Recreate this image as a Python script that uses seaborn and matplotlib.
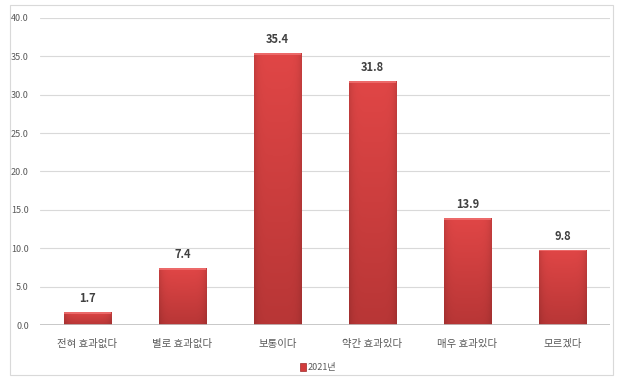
import numpy as np
import pandas as pd
import matplotlib
matplotlib.use("Agg")
import matplotlib.pyplot as plt
import matplotlib.patches as mpatches
import seaborn as sns

categories = ["전혀 효과없다", "별로 효과없다", "보통이다", "약간 효과있다", "매우 효과있다", "모르겠다"]
values = [1.7, 7.4, 35.4, 31.8, 13.9, 9.8]
series_name = "2021년"
y_ticks = [0, 5, 10, 15, 20, 25, 30, 35, 40]

sns.set_theme(style="white")
plt.rcParams["font.family"] = ["Noto Sans CJK KR", "DejaVu Sans"]

df = pd.DataFrame({"category": categories, "value": values})

fig = plt.figure(figsize=(6.18, 3.80), dpi=100)
ax = fig.add_axes([0.0647, 0.1447, 0.9223, 0.808])

base = "#d23c3c"
sns.barplot(data=df, x="category", y="value", color=base, width=0.5,
            saturation=1, ax=ax, zorder=3, edgecolor="#a83030", linewidth=0.5)

# shading inside each bar: lighter at the top, darker toward the base,
# with a slight darkening at the side edges
top = np.array(matplotlib.colors.to_rgb("#e04646"))
bottom = np.array(matplotlib.colors.to_rgb("#b83636"))
t = np.linspace(0, 1, 64)[:, None, None]          # 0 = top row, 1 = bottom row
xs = np.linspace(-1, 1, 48)
side = (1 - 0.12 * xs ** 6)[None, :, None]
img = np.clip((top * (1 - t) + bottom * t) * side, 0, 1)
for p in ax.patches:
    x0, y0 = p.get_x(), p.get_y()
    w, h = p.get_width(), p.get_height()
    im = ax.imshow(img, extent=[x0, x0 + w, y0, y0 + h], aspect="auto",
                   zorder=3.5, interpolation="bilinear")
    im.set_clip_path(p)
    # light bevel along the top
    ax.add_patch(mpatches.Rectangle((x0, y0 + h - 0.22), w, 0.22,
                                    facecolor="#ef7070", edgecolor="none",
                                    alpha=0.85, zorder=3.6))

for i, v in enumerate(values):
    ax.text(i, v + 0.9, f"{v:.1f}", ha="center", va="bottom",
            fontsize=8, fontweight="bold", color="#404040", zorder=5)

ax.set_ylim(0, 40)
ax.set_xlim(-0.5, len(categories) - 0.5)
ax.set_yticks(y_ticks)
ax.set_yticklabels([f"{t:.1f}" for t in y_ticks], fontsize=6.5, color="#595959")
ax.tick_params(axis="x", labelsize=7.5, colors="#595959", length=0, pad=10)
ax.tick_params(axis="y", length=0, pad=8)
ax.set_xlabel("")
ax.set_ylabel("")
ax.grid(axis="y", color="#d9d9d9", linewidth=0.8, zorder=0)
ax.axhline(0, color="#bfbfbf", linewidth=1.2, zorder=4)
for s in ax.spines.values():
    s.set_visible(False)

handle = mpatches.Patch(facecolor=base, edgecolor="#9e2a2a", linewidth=0.5, label=series_name)
fig.legend(handles=[handle], loc="center", bbox_to_anchor=(0.515, 0.032),
           frameon=False, fontsize=6.5, handlelength=0.6, handleheight=0.9,
           handletextpad=0.2, labelcolor="#595959")

# chart frame
fig.patches.append(mpatches.Rectangle((10 / 618, 5 / 380), 603 / 618, 370 / 380,
                                      transform=fig.transFigure, fill=False,
                                      edgecolor="#d9d9d9", linewidth=0.8))

fig.savefig("out.png", dpi=100)
